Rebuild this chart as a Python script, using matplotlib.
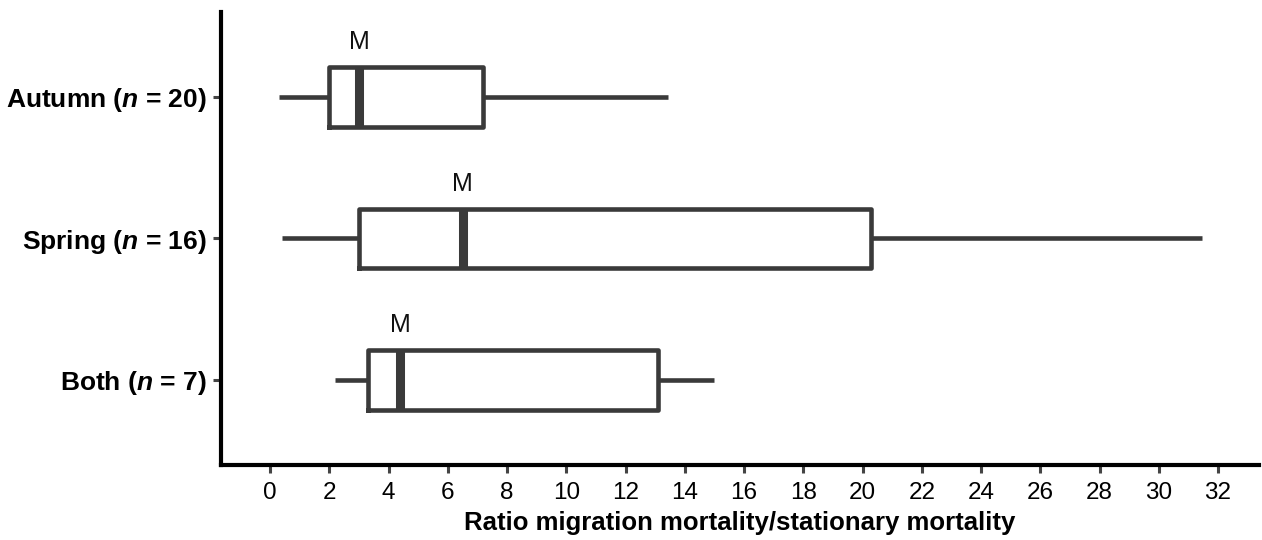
import matplotlib
matplotlib.use('Agg')
import matplotlib.pyplot as plt

plt.rcParams['font.family'] = ['Liberation Sans', 'DejaVu Sans']
plt.rcParams['mathtext.fontset'] = 'custom'
plt.rcParams['mathtext.it'] = 'Liberation Sans:italic:bold'
plt.rcParams['mathtext.rm'] = 'Liberation Sans:bold'

# 数据
groups = ['Autumn', 'Spring', 'Both']
counts = [20, 16, 7]
whis_lo = [0.3, 0.4, 2.2]
q1 = [2.0, 3.0, 3.3]
medians = [3.0, 6.5, 4.4]
q3 = [7.2, 20.3, 13.1]
whis_hi = [13.45, 31.45, 15.0]
xticks = list(range(0, 33, 2))

positions = [2, 1, 0]
stats = []
for i in range(len(groups)):
    stats.append({'med': medians[i], 'q1': q1[i], 'q3': q3[i],
                  'whislo': whis_lo[i], 'whishi': whis_hi[i],
                  'label': f'{groups[i]} ($n$ = {counts[i]})'})

c = '#3a3a3a'
fig = plt.figure(figsize=(12.62, 5.40), dpi=100)
ax = fig.add_axes([0.175, 0.139, 0.823, 0.839])

ax.bxp(stats, positions=positions, vert=False, widths=0.42,
       showcaps=False, showfliers=False,
       boxprops=dict(color=c, linewidth=3.3),
       whiskerprops=dict(color=c, linewidth=3.3, solid_capstyle='butt'),
       medianprops=dict(color=c, linewidth=6.5, solid_capstyle='butt'))

for i in range(len(groups)):
    ax.text(medians[i], positions[i] + 0.385, 'M', ha='center', va='center',
            fontsize=18, color='#111111')

ax.set_xlim(-1.66, 33.4)
ax.set_ylim(-0.6, 2.6)
ax.set_xticks(xticks)
ax.set_xticklabels([str(t) for t in xticks])
ax.set_yticks(positions)
ax.set_yticklabels([s['label'] for s in stats], fontweight='bold', fontsize=19)
ax.tick_params(axis='x', length=6, width=2.2, color='#444444', labelsize=17.5, pad=6)
ax.tick_params(axis='y', length=6, width=2.2, color='#444444', pad=4)
ax.set_xlabel('Ratio migration mortality/stationary mortality', fontweight='bold',
              fontsize=18.5, labelpad=5)

for s in ['top', 'right']:
    ax.spines[s].set_visible(False)
for s in ['left', 'bottom']:
    ax.spines[s].set_linewidth(3)
    ax.spines[s].set_color('black')

fig.savefig('out.png', dpi=100)
